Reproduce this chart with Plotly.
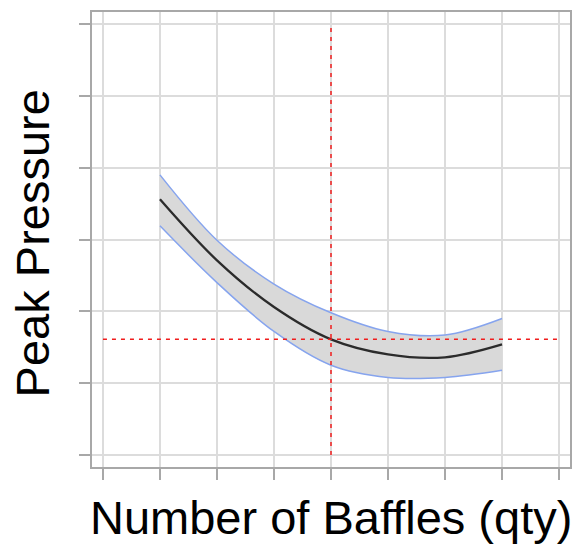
import plotly.graph_objects as go

# Data
baffles = [1, 2, 3, 4, 5, 6, 7]
pressure_pred = [3.56, 2.71, 2.06, 1.61, 1.40, 1.36, 1.54]
pressure_upper = [3.90, 2.99, 2.38, 1.98, 1.72, 1.67, 1.90]
pressure_lower = [3.19, 2.40, 1.72, 1.25, 1.08, 1.08, 1.18]
x_ticks = [0, 1, 2, 3, 4, 5, 6, 7, 8]
y_ticks = [0, 1, 2, 3, 4, 5, 6]
current_x = 4
current_y = pressure_pred[baffles.index(current_x)]

band_edge = "#86a4ee"
fig = go.Figure()
fig.add_trace(go.Scatter(x=baffles, y=pressure_lower, mode="lines",
                         line=dict(color=band_edge, width=1.5, shape="spline"),
                         showlegend=False, hoverinfo="skip"))
fig.add_trace(go.Scatter(x=baffles, y=pressure_upper, mode="lines",
                         line=dict(color=band_edge, width=1.5, shape="spline"),
                         fill="tonexty", fillcolor="#d9d9d9",
                         showlegend=False, hoverinfo="skip"))
fig.add_trace(go.Scatter(x=baffles, y=pressure_pred, mode="lines",
                         line=dict(color="#2b2b2b", width=2.3, shape="spline"),
                         showlegend=False))

# crosshair
cross = dict(color="#f01c1c", width=1.5, dash="4px,5px")
fig.add_shape(type="line", xref="x", yref="y", x0=current_x, x1=current_x,
              y0=y_ticks[0], y1=y_ticks[-1], line=cross, layer="above")
fig.add_shape(type="line", xref="x", yref="y", x0=x_ticks[0], x1=x_ticks[-1],
              y0=current_y, y1=current_y, line=cross, layer="above")

pad_x = 0.192
pad_y = 0.167
axis_common = dict(showticklabels=False, ticks="outside", ticklen=11,
                   tickcolor="#a8a8a8", tickwidth=1.5,
                   showgrid=True, gridcolor="#dcdcdc", gridwidth=1.5,
                   showline=True, mirror=True, linecolor="#a8a8a8", linewidth=2,
                   zeroline=False, fixedrange=True)
fig.update_xaxes(range=[x_ticks[0] - pad_x, x_ticks[-1] + pad_x],
                 tickvals=x_ticks, **axis_common)
fig.update_yaxes(range=[y_ticks[0] - pad_y, y_ticks[-1] + pad_y],
                 tickvals=y_ticks, **axis_common)

fig.add_annotation(text="Number of Baffles (qty)", xref="paper", yref="paper",
                   x=0.5, y=-0.11, xanchor="center", yanchor="middle",
                   showarrow=False,
                   font=dict(family="Liberation Sans, Arial, sans-serif", size=47, color="#000000"))
fig.add_annotation(text="Peak Pressure", xref="paper", yref="paper",
                   x=-0.125, y=0.492, xanchor="center", yanchor="middle",
                   textangle=-90, showarrow=False,
                   font=dict(family="Liberation Sans, Arial, sans-serif", size=47, color="#000000"))

fig.update_layout(width=579, height=547,
                  margin=dict(l=92, r=7, t=12, b=80),
                  plot_bgcolor="white", paper_bgcolor="white",
                  showlegend=False)

fig.write_html("out.html")
